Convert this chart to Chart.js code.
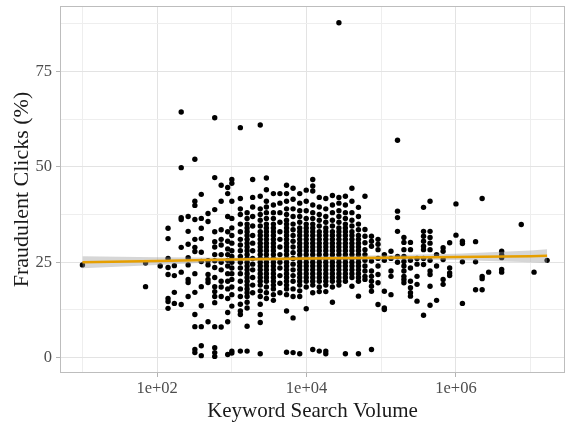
<!DOCTYPE html>
<html>
<head>
<meta charset="utf-8">
<script src="https://cdn.jsdelivr.net/npm/chart.js@4.4.1/dist/chart.umd.min.js"></script>
<style>
  body { margin: 0; background: #fff; }
  #wrap { width: 569px; height: 427px; }
</style>
</head>
<body>
<div id="wrap"><canvas id="fraudChart" width="569" height="427"></canvas></div>
<script>
// keyword search volume buckets (x) and the fraudulent click % seen in each bucket
const volumes = [10, 70, 110, 140, 170, 210, 260, 320, 390, 480, 590, 720, 880, 1000, 1300, 1600, 1900, 2400, 2900, 3600,
    4400, 5400, 6600, 8100, 9900, 12100, 14800, 18100, 22200, 27100, 33100, 40500, 49500, 60500, 74000, 90500,
    110000, 135000, 165000, 201000, 246000, 301000, 368000, 450000, 550000, 673000, 823000, 1000000, 1220000,
    1830000, 2240000, 2740000, 4090000, 7480000, 11100000, 16600000];

const clicks = [
    [24.3],
    [24.8, 18.6],
    [24.0],
    [33.9, 31.2, 26.0, 23.6, 21.8, 15.5, 14.7, 12.9],
    [24.1, 21.5, 17.1, 14.2],
    [64.4, 49.8, 36.7, 36.2, 28.9, 22.4, 13.9],
    [37.0, 33.1, 29.7, 26.2, 24.3, 20.5, 19.7, 16.0],
    [52.0, 41.0, 39.9, 36.2, 31.0, 28.9, 27.8, 22.0, 17.1, 11.3, 8.1, 2.1, 1.3],
    [42.8, 36.5, 33.9, 31.2, 27.6, 25.2, 18.6, 13.6, 8.1, 3.1, 0.5],
    [37.8, 35.7, 25.4, 24.3, 21.8, 20.5, 19.7, 9.4],
    [62.9, 47.2, 38.8, 33.0, 30.4, 29.0, 27.0, 25.4, 23.6, 21.0, 18.6, 17.3, 16.0, 14.4, 8.1, 2.6, 1.3, 0.3],
    [45.2, 41.0, 33.5, 31.0, 29.5, 27.0, 25.0, 23.0, 20.0, 18.5, 16.0, 8.0],
    [44.6, 43.0, 37.0, 33.0, 30.5, 28.5, 27.0, 25.5, 24.0, 22.0, 20.0, 18.0, 15.5, 11.8, 9.4, 0.8],
    [46.7, 45.7, 41.0, 36.5, 34.0, 32.0, 30.0, 28.0, 26.5, 25.0, 23.5, 22.0, 20.5, 18.5, 16.5, 13.5, 1.7, 1.2],
    [60.3, 41.7, 39.0, 37.5, 35.0, 33.0, 31.0, 29.5, 28.0, 26.5, 25.0, 23.5, 22.0, 20.0, 18.0, 16.0, 14.0, 12.2, 11.3, 1.7],
    [38.0, 36.5, 35.0, 34.0, 33.0, 32.0, 31.0, 30.0, 29.0, 28.0, 27.0, 26.0, 25.0, 24.0, 23.0, 22.0, 21.0, 20.0, 19.0, 18.0, 17.0, 16.0, 14.5, 13.0, 8.2, 1.7],
    [46.7, 42.0, 39.5, 37.0, 34.5, 32.0, 30.0, 28.0, 26.0, 24.5, 23.0, 21.0, 19.0, 17.0],
    [61.0, 42.3, 39.0, 37.5, 36.0, 34.5, 33.0, 32.0, 31.0, 30.0, 29.0, 28.0, 27.0, 26.0, 25.0, 24.0, 23.0, 22.0, 21.0, 20.0, 19.0, 17.5, 16.0, 14.0, 11.3, 9.2, 1.0],
    [47.1, 44.0, 41.0, 39.5, 38.0, 36.5, 35.0, 34.0, 33.0, 32.0, 31.0, 30.0, 29.0, 28.0, 27.0, 26.0, 25.0, 24.0, 23.0, 22.0, 21.0, 20.0, 18.5, 17.0, 15.5],
    [43.0, 40.0, 38.0, 36.5, 35.0, 34.0, 33.0, 32.0, 31.0, 30.0, 29.0, 28.0, 27.0, 26.0, 25.0, 24.0, 23.0, 22.0, 21.0, 20.0, 19.0, 18.0, 16.5, 15.0],
    [43.0, 40.5, 38.0, 35.5, 33.0, 31.0, 29.0, 27.0, 25.0, 23.5, 21.5, 19.5, 17.0],
    [45.2, 43.0, 41.0, 39.0, 37.5, 36.0, 35.0, 34.0, 33.0, 32.0, 31.0, 30.0, 29.0, 28.0, 27.0, 26.0, 25.0, 24.0, 23.0, 22.0, 21.0, 20.0, 19.0, 18.0, 16.5, 12.2, 1.4],
    [44.4, 41.5, 39.0, 37.0, 35.0, 33.5, 32.0, 30.5, 29.0, 27.5, 26.0, 24.5, 23.0, 21.5, 20.0, 18.0, 16.0, 10.4, 1.3],
    [43.0, 40.5, 38.5, 37.0, 35.5, 34.0, 33.0, 32.0, 31.0, 30.0, 29.0, 28.0, 27.0, 26.0, 25.0, 24.0, 23.0, 22.0, 21.0, 20.0, 19.0, 17.5, 16.0, 1.0],
    [43.9, 41.0, 38.5, 36.5, 35.0, 34.0, 33.0, 32.0, 31.0, 30.0, 29.0, 28.0, 27.0, 26.0, 25.0, 24.0, 23.0, 22.0, 21.0, 20.0, 18.5, 12.8],
    [46.7, 45.0, 43.7, 40.0, 38.0, 36.5, 35.0, 34.0, 33.0, 32.0, 31.0, 30.0, 29.0, 28.0, 27.0, 26.0, 25.0, 24.0, 23.0, 22.0, 21.0, 20.0, 19.0, 17.0, 2.1],
    [42.0, 39.5, 37.5, 36.0, 34.5, 33.0, 32.0, 31.0, 30.0, 29.0, 28.0, 27.0, 26.0, 25.0, 24.0, 23.0, 22.0, 21.0, 20.0, 18.5, 17.3, 1.7],
    [41.7, 39.0, 37.0, 35.5, 34.0, 33.0, 32.0, 31.0, 30.0, 29.0, 28.0, 27.0, 26.0, 25.0, 24.0, 23.0, 22.0, 21.0, 20.0, 19.0, 17.3, 1.7, 1.0],
    [42.5, 40.0, 38.0, 36.0, 34.5, 33.0, 32.0, 31.0, 30.0, 29.0, 28.0, 27.0, 26.0, 25.0, 24.0, 23.0, 22.0, 21.0, 20.0, 18.5, 14.5],
    [87.8, 42.0, 40.5, 38.5, 37.0, 35.5, 34.0, 33.0, 32.0, 31.0, 30.0, 29.0, 28.0, 27.0, 26.0, 25.0, 24.0, 23.0, 22.0, 21.0, 20.0, 19.0],
    [42.3, 40.0, 38.0, 36.5, 35.0, 34.0, 33.0, 32.0, 31.0, 30.0, 29.0, 28.0, 27.0, 26.0, 25.0, 24.0, 23.0, 22.0, 21.0, 20.0, 1.0],
    [44.4, 41.0, 38.0, 36.0, 34.5, 33.0, 32.0, 31.0, 30.0, 29.0, 28.0, 27.0, 26.0, 25.0, 24.0, 23.0, 22.0, 21.0, 18.7],
    [39.4, 37.0, 35.0, 33.5, 32.0, 31.0, 30.0, 29.0, 28.0, 27.0, 26.0, 25.0, 24.0, 23.0, 22.0, 21.0, 20.0, 16.1, 1.0],
    [42.3, 33.6, 31.8, 30.1, 28.3, 27.0, 25.5, 24.0, 22.7, 21.3, 20.5],
    [31.8, 30.5, 29.2, 25.3, 22.7, 21.3, 20.0, 18.7, 17.4, 2.1],
    [31.0, 29.7, 28.3, 26.0, 24.0, 21.8, 19.6, 13.9],
    [27.0, 25.5, 17.4, 13.0, 12.6],
    [27.9, 26.0, 22.7, 21.3, 16.5],
    [57.0, 38.4, 36.7, 33.1, 26.5, 25.0],
    [31.5, 30.2, 28.3, 26.5, 25.2, 24.0, 22.7, 21.3, 20.5, 19.6],
    [30.2, 28.3, 25.5, 23.5, 20.0, 18.3, 17.0, 16.1],
    [26.0, 24.5, 21.3, 19.2, 14.8],
    [39.4, 33.1, 31.8, 30.5, 29.2, 28.3, 26.0, 24.4, 11.1],
    [41.0, 33.1, 31.5, 30.0, 28.3, 25.5, 22.7, 21.8, 18.7, 13.7],
    [27.0, 24.0, 15.0],
    [28.8, 27.9, 25.7, 20.5, 19.2],
    [30.1, 23.5, 22.2, 21.5],
    [40.3, 32.1],
    [30.5, 29.9, 25.1, 14.2],
    [30.4, 25.1, 17.8],
    [41.7, 21.3, 20.7, 17.8],
    [22.4],
    [27.9, 26.9, 26.2, 23.1, 22.4],
    [34.9],
    [22.4],
    [25.5]
];

// smoother (loess) line with its confidence band
const smoothX = [10, 100, 1000, 10000, 100000, 1000000, 10000000, 16600000];
const smoothY = [25.0, 25.3, 25.7, 26.0, 26.2, 26.4, 26.6, 26.7];
const bandLow = [23.4, 24.3, 25.2, 25.5, 25.6, 25.6, 25.0, 24.8];
const bandHigh = [26.6, 26.3, 26.2, 26.5, 26.8, 27.2, 28.1, 28.4];

// axis ticks (grid lines) and the ones that carry a label
const xTicks = [1e1, 1e2, 1e3, 1e4, 1e5, 1e6, 1e7];
const xLabelled = [1e2, 1e4, 1e6];
const yTicks = [0, 12.5, 25, 37.5, 50, 62.5, 75, 87.5];
const yLabelled = [0, 25, 50, 75];

const points = [];
volumes.forEach((v, i) => {
    clicks[i].forEach(c => points.push({ x: v, y: c }));
});

const toXY = (ys) => smoothX.map((x, i) => ({ x: x, y: ys[i] }));

const isMajorX = v => xLabelled.some(t => Math.abs(Math.log10(t) - Math.log10(v)) < 1e-6);
const isMajorY = v => yLabelled.includes(v);

const panelBorder = {
    id: 'panelBorder',
    afterDatasetsDraw(chart) {
        const { ctx, chartArea } = chart;
        ctx.save();
        ctx.strokeStyle = '#bdbdbd';
        ctx.lineWidth = 1;
        ctx.strokeRect(chartArea.left + 0.5, chartArea.top + 0.5,
            chartArea.right - chartArea.left - 1, chartArea.bottom - chartArea.top - 1);
        ctx.restore();
    }
};

new Chart(document.getElementById('fraudChart'), {
    type: 'scatter',
    data: {
        datasets: [
            {
                type: 'line',
                data: toXY(smoothY),
                borderColor: '#E69F00',
                borderWidth: 2.5,
                pointRadius: 0,
                fill: false,
                order: 0
            },
            {
                type: 'line',
                data: toXY(bandHigh),
                borderWidth: 0,
                pointRadius: 0,
                backgroundColor: 'rgba(153,153,153,0.4)',
                fill: '+1',
                order: 1
            },
            {
                type: 'line',
                data: toXY(bandLow),
                borderWidth: 0,
                pointRadius: 0,
                fill: false,
                order: 1
            },
            {
                data: points,
                pointRadius: 2.7,
                pointBackgroundColor: '#000',
                pointBorderWidth: 0,
                order: 2
            }
        ]
    },
    options: {
        responsive: false,
        animation: false,
        layout: { padding: { left: 0, right: 3, top: 6, bottom: 0 } },
        plugins: {
            legend: { display: false },
            tooltip: { enabled: false }
        },
        scales: {
            x: {
                type: 'logarithmic',
                min: 5.01,
                max: 2.88e7,
                afterBuildTicks: scale => { scale.ticks = xTicks.map(v => ({ value: v })); },
                afterFit: scale => {
                    scale.height = 54;
                    scale.paddingLeft = 0;
                    scale.paddingRight = 0;
                },
                border: { display: false },
                grid: {
                    color: ctx => isMajorX(ctx.tick.value) ? '#e3e3e3' : '#eeeeee',
                    tickColor: ctx => isMajorX(ctx.tick.value) ? '#b3b3b3' : 'rgba(0,0,0,0)',
                    tickLength: 4
                },
                ticks: {
                    autoSkip: false,
                    maxRotation: 0,
                    padding: 2,
                    color: '#4d4d4d',
                    font: { family: 'Liberation Serif', size: 16.5 },
                    callback: v => isMajorX(v) ? '1e+' + String(Math.round(Math.log10(v))).padStart(2, '0') : ''
                },
                title: {
                    display: true,
                    text: 'Keyword Search Volume',
                    color: '#1a1a1a',
                    font: { family: 'Liberation Serif', size: 21 },
                    padding: { top: 0, bottom: 3 }
                }
            },
            y: {
                min: -4.05,
                max: 92.2,
                afterBuildTicks: scale => { scale.ticks = yTicks.map(v => ({ value: v })); },
                afterFit: scale => {
                    scale.width = 60;
                    scale.paddingTop = 0;
                    scale.paddingBottom = 0;
                },
                border: { display: false },
                grid: {
                    color: ctx => isMajorY(ctx.tick.value) ? '#e3e3e3' : '#eeeeee',
                    tickColor: ctx => isMajorY(ctx.tick.value) ? '#b3b3b3' : 'rgba(0,0,0,0)',
                    tickLength: 4
                },
                ticks: {
                    autoSkip: false,
                    padding: 4,
                    color: '#4d4d4d',
                    font: { family: 'Liberation Serif', size: 16.5 },
                    callback: v => isMajorY(v) ? String(v) : ''
                },
                title: {
                    display: true,
                    text: 'Fraudulent Clicks (%)',
                    color: '#1a1a1a',
                    font: { family: 'Liberation Serif', size: 22 },
                    padding: { top: 9, bottom: 0 }
                }
            }
        }
    },
    plugins: [panelBorder]
});
</script>
</body>
</html>
